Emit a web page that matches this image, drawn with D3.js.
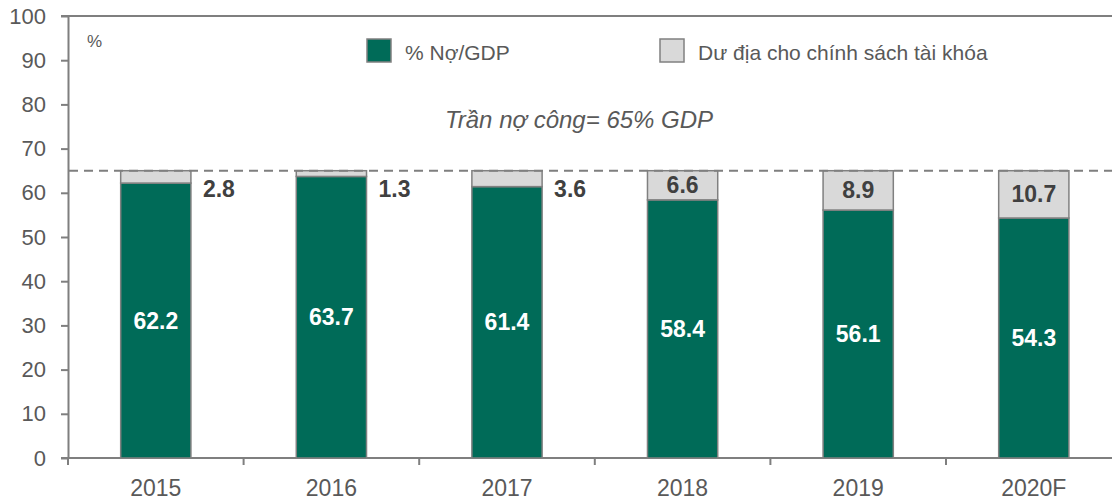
<!DOCTYPE html>
<html>
<head>
<meta charset="utf-8">
<script src="https://cdn.jsdelivr.net/npm/d3@7"></script>
<style>
    body { margin: 0; background: #fff; }
    svg { font-family: "Liberation Sans", Arial, sans-serif; }
</style>
</head>
<body>
<svg id="chart" width="1112" height="501"></svg>
<script>
// Chart data
var years = ["2015", "2016", "2017", "2018", "2019", "2020F"];
var debtValues = [62.2, 63.7, 61.4, 58.4, 56.1, 54.3];
var roomValues = [2.8, 1.3, 3.6, 6.6, 8.9, 10.7];
var yTicks = [0, 10, 20, 30, 40, 50, 60, 70, 80, 90, 100];
var debtCeiling = 65;
var seriesNames = ["% Nợ/GDP", "Dư địa cho chính sách tài khóa"];
var ceilingLabel = "Trần nợ công= 65% GDP";

var green = "#006b58",
    lightGrey = "#d9d9d9",
    axisGrey = "#7f7f7f",
    textGrey = "#595959";

var svg = d3.select("#chart");

// Scales
var x = d3.scaleBand()
    .domain(years)
    .range([68, 68 + 6 * 175.6])
    .paddingInner(0.6)
    .paddingOuter(0.3);

var y = d3.scaleLinear()
    .domain([0, 100])
    .range([458, 16]);

// Y axis
var yAxis = d3.axisLeft(y)
    .tickValues(yTicks)
    .tickSize(7)
    .tickSizeOuter(0)
    .tickPadding(15);

var gy = svg.append("g")
    .attr("transform", "translate(68,0)")
    .call(yAxis);
gy.select(".domain").attr("stroke", axisGrey).attr("stroke-width", 2);
gy.selectAll(".tick line").attr("stroke", axisGrey).attr("stroke-width", 2);
gy.selectAll(".tick text")
    .attr("fill", textGrey)
    .style("font-size", "22px");

// Top border line
svg.append("line")
    .attr("x1", 61).attr("x2", 1112)
    .attr("y1", y(100)).attr("y2", y(100))
    .attr("stroke", axisGrey)
    .attr("stroke-width", 2);

// X axis: ticks at category boundaries
var gx = svg.append("g");
gx.append("line")
    .attr("x1", 61).attr("x2", 1112)
    .attr("y1", y(0)).attr("y2", y(0))
    .attr("stroke", axisGrey)
    .attr("stroke-width", 2);
gx.selectAll(".xtick")
    .data(years)
    .enter().append("line")
    .attr("class", "xtick")
    .attr("x1", function (d) { return x(d) - (x.step() - x.bandwidth()) / 2; })
    .attr("x2", function (d) { return x(d) - (x.step() - x.bandwidth()) / 2; })
    .attr("y1", y(0))
    .attr("y2", y(0) + 7)
    .attr("stroke", axisGrey)
    .attr("stroke-width", 2);
gx.selectAll(".xlabel")
    .data(years)
    .enter().append("text")
    .attr("class", "xlabel")
    .attr("x", function (d) { return x(d) + x.bandwidth() / 2; })
    .attr("y", 496)
    .attr("text-anchor", "middle")
    .attr("fill", textGrey)
    .style("font-size", "23px")
    .text(function (d) { return d; });

// Stacked bars
var rows = years.map(function (d, i) {
    return { year: d, debt: debtValues[i], room: roomValues[i] };
});
var stack = d3.stack().keys(["debt", "room"]);
var layers = stack(rows);
var fills = [green, lightGrey];

var g = svg.selectAll(".layer")
    .data(layers)
    .enter().append("g")
    .attr("class", "layer")
    .attr("fill", function (d, i) { return fills[i]; });

g.selectAll("rect")
    .data(function (d) { return d; })
    .enter().append("rect")
    .attr("x", function (d) { return x(d.data.year); })
    .attr("y", function (d) { return y(d[1]); })
    .attr("width", x.bandwidth())
    .attr("height", function (d) { return y(d[0]) - y(d[1]); })
    .attr("stroke", "#808080")
    .attr("stroke-width", 1.5);

// Debt ceiling dashed line
svg.append("line")
    .attr("x1", 69).attr("x2", 1112)
    .attr("y1", y(debtCeiling)).attr("y2", y(debtCeiling))
    .attr("stroke", axisGrey)
    .attr("stroke-width", 2)
    .attr("stroke-dasharray", "9,6");

// Debt labels (white, inside green)
svg.selectAll(".debt-label")
    .data(rows)
    .enter().append("text")
    .attr("class", "debt-label")
    .attr("x", function (d) { return x(d.year) + x.bandwidth() / 2; })
    .attr("y", function (d) { return y(d.debt / 2) + 8; })
    .attr("text-anchor", "middle")
    .attr("fill", "#fff")
    .style("font-size", "23px")
    .style("font-weight", "bold")
    .text(function (d) { return d.debt.toFixed(1); });

// Room labels: inside when wide enough, else to the right
svg.selectAll(".room-label")
    .data(rows)
    .enter().append("text")
    .attr("class", "room-label")
    .attr("x", function (d) {
        return d.room > 5 ? x(d.year) + x.bandwidth() / 2 : x(d.year) + x.bandwidth() + 12;
    })
    .attr("y", function (d) {
        return d.room > 5 ? y(d.debt + d.room / 2) + 8 : y(debtCeiling) + 26;
    })
    .attr("text-anchor", function (d) { return d.room > 5 ? "middle" : "start"; })
    .attr("fill", "#404040")
    .style("font-size", "23px")
    .style("font-weight", "bold")
    .text(function (d) { return d.room.toFixed(1); });

// Legend
var legendX = [367, 660];
var legend = svg.selectAll(".legend")
    .data(seriesNames)
    .enter().append("g")
    .attr("class", "legend")
    .attr("transform", function (d, i) { return "translate(" + legendX[i] + ",39)"; });
legend.append("rect")
    .attr("width", 24)
    .attr("height", 23)
    .attr("fill", function (d, i) { return fills[i]; })
    .attr("stroke", "#808080")
    .attr("stroke-width", 1.5);
legend.append("text")
    .attr("x", 38)
    .attr("y", 21)
    .attr("fill", textGrey)
    .style("font-size", "21px")
    .text(function (d) { return d; });

// Percent unit label
svg.append("text")
    .attr("x", 87)
    .attr("y", 47)
    .attr("fill", textGrey)
    .style("font-size", "17px")
    .text("%");

// Ceiling annotation
svg.append("text")
    .attr("x", 579)
    .attr("y", 128)
    .attr("text-anchor", "middle")
    .attr("fill", textGrey)
    .style("font-size", "24px")
    .style("font-style", "italic")
    .text(ceilingLabel);
</script>
</body>
</html>
